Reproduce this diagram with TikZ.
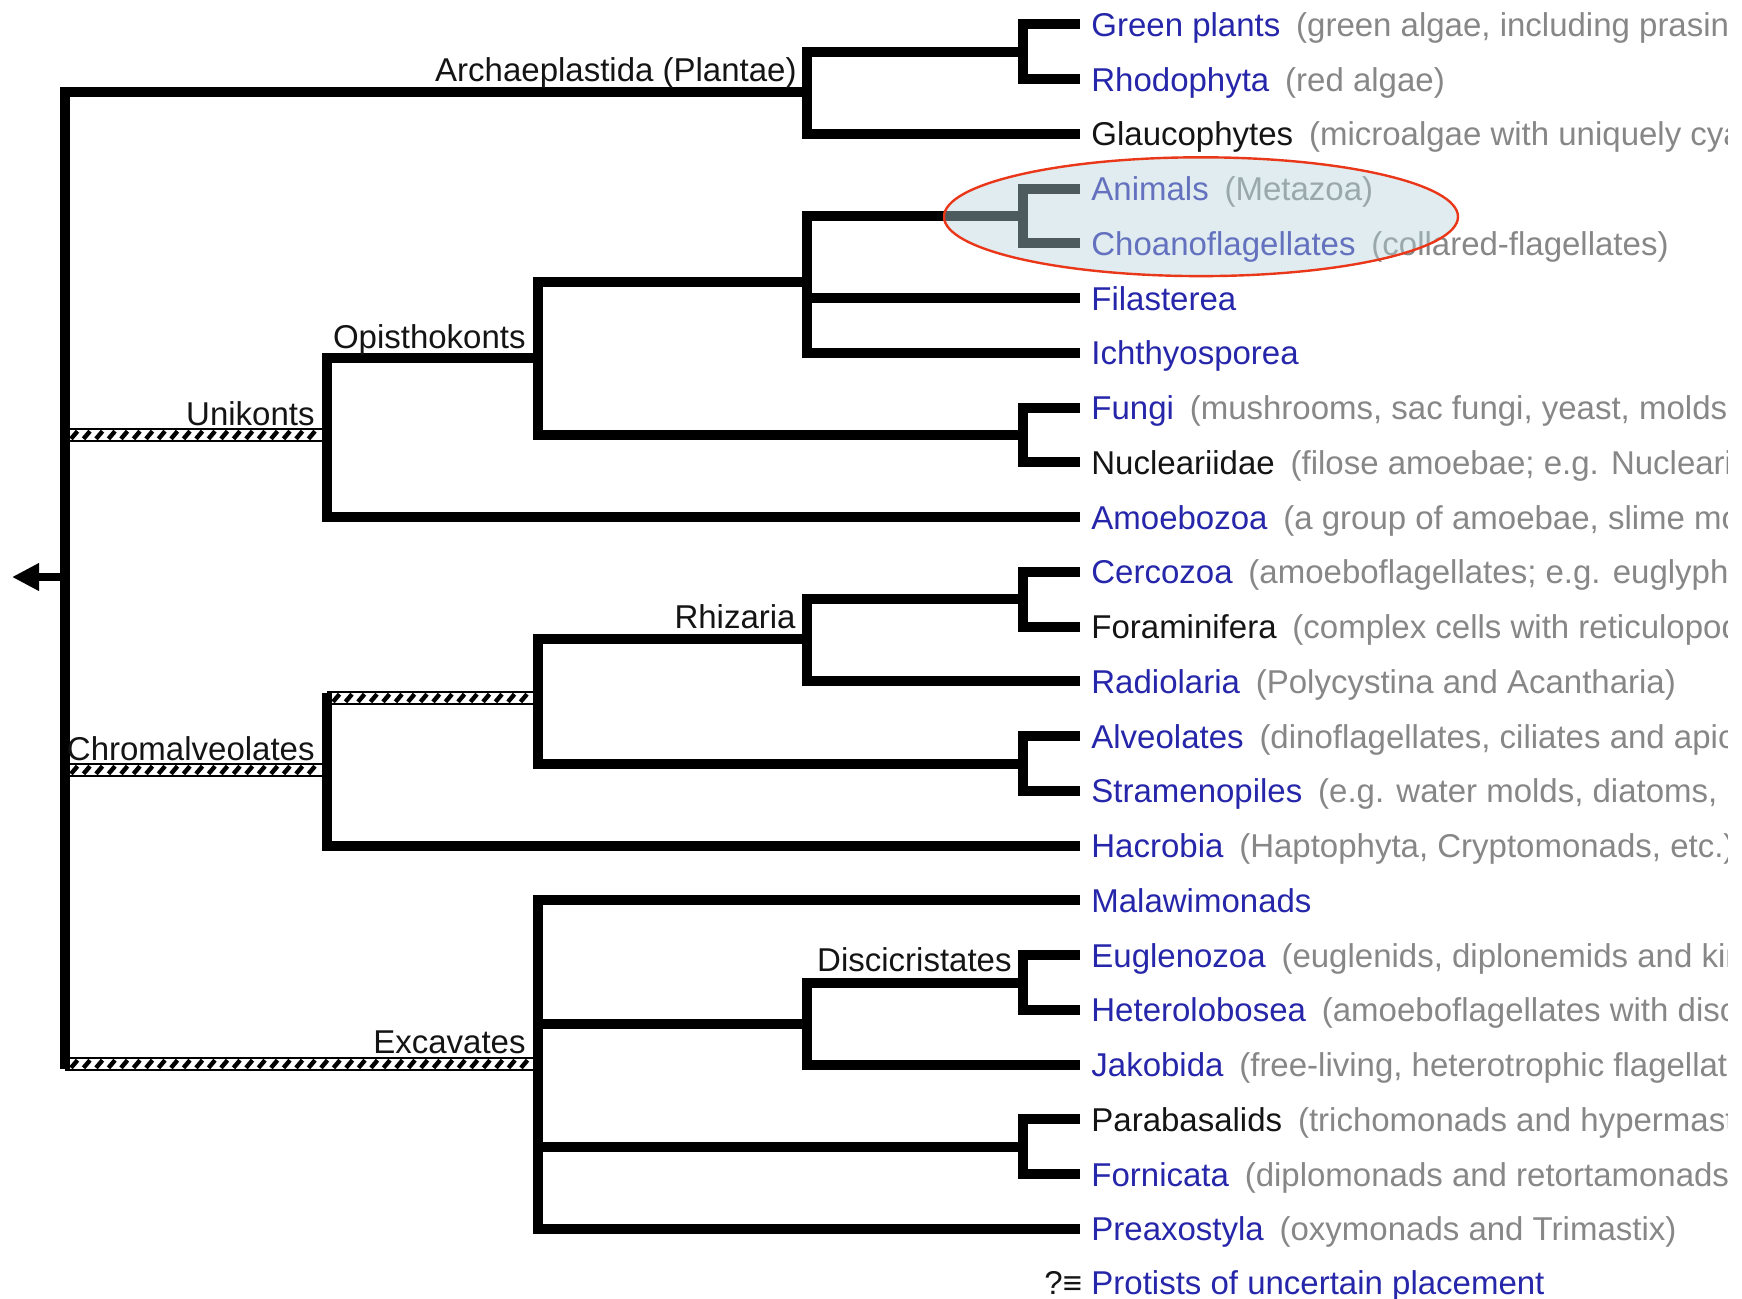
\documentclass[tikz,border=0pt]{standalone}
\usepackage{fontspec}
\setmainfont{Liberation Sans}
\usetikzlibrary{arrows.meta}
\definecolor{lnk}{RGB}{38,38,170}
\definecolor{dsc}{RGB}{135,135,135}
\definecolor{blk}{RGB}{20,20,20}
\definecolor{ovl}{RGB}{182,212,218}
\definecolor{ring}{RGB}{235,55,25}
\newcommand\Desc[1]{\hspace{0.48em}\textcolor{dsc}{#1}}
\newcommand\HatchBar[3]{%
  \fill[white] (#1,#3-7) rectangle (#2,#3+7);
  \draw[line width=1.1pt] (#1,#3-6) -- (#2,#3-6) (#1,#3+6) -- (#2,#3+6);
  \pgfmathsetmacro\hbS{#1+6}\pgfmathsetmacro\hbN{#1+18.5}\pgfmathsetmacro\hbE{#2-12}
  \foreach \xx in {\hbS,\hbN,...,\hbE} \draw[line width=2.2pt] (\xx,#3+3.8) -- (\xx+6.5,#3-3.8);
}
\tikzset{
  br/.style={line width=5pt, line join=miter, draw=black},
  brr/.style={br, line cap=rect},
  lbl/.style={inner sep=0pt, font=\fontsize{16.5}{19}\selectfont},
  leaf/.style={lbl, anchor=base west, text=lnk},
  leafk/.style={lbl, anchor=base west, text=blk},
  clade/.style={lbl, anchor=base east, text=blk},
}
\begin{document}
\begin{tikzpicture}[x=0.5pt,y=-0.5pt]
\useasboundingbox (0,0) rectangle (1742,1298);
% internal nodes
\coordinate (r)    at (65,577);
\coordinate (arch) at (807,92);
\coordinate (gr)   at (1023,51.8);
\coordinate (uni)  at (327,435);
\coordinate (opis) at (538,358);
\coordinate (hol)  at (807,282);
\coordinate (an)   at (1023,216);
\coordinate (fn)   at (1023,435);
\coordinate (chr)  at (327,770);
\coordinate (rsa)  at (538,698);
\coordinate (rhz)  at (807,639);
\coordinate (cf)   at (1023,599.3);
\coordinate (sa)   at (1023,763.5);
\coordinate (exc)  at (538,1064);
\coordinate (dis)  at (807,1023.6);
\coordinate (eh)   at (1023,982.5);
\coordinate (pf)   at (1023,1146.8);
\coordinate (tip)  at (12,577);
% leaf tips
\foreach \i in {0,...,22} {\coordinate (t\i) at (1080,24.4+54.75*\i);}
% hatched branches
\HatchBar{65}{327}{435}
\HatchBar{65}{327}{770}
\HatchBar{327}{538}{698}
\HatchBar{65}{538}{1064}
% root
\draw[line width=4pt, -{Triangle[length=13.5pt,width=13pt]}] (r) -- (tip);
\draw[br] (r) |- (arch);
\draw[brr] (r) -- (r |- exc);
% Archaeplastida
\draw[br] (arch) |- (gr);
\draw[br] (arch) |- (t2);
\draw[br] (gr) |- (t0);
\draw[br] (gr) |- (t1);
% Unikonts
\draw[brr] (uni) -- (uni |- opis);
\draw[br] (uni) |- (opis);
\draw[br] (uni) |- (t9);
\draw[br] (opis) |- (hol);
\draw[br] (opis) |- (fn);
\draw[br] (hol) |- (an);
\draw[br] (hol) |- (t5);
\draw[br] (hol) |- (t6);
\draw[br] (an) |- (t3);
\draw[br] (an) |- (t4);
\draw[br] (fn) |- (t7);
\draw[br] (fn) |- (t8);
% Chromalveolates
\draw[brr] (chr) -- (chr |- rsa);
\draw[br] (chr) |- (t15);
\draw[br] (rsa) |- (rhz);
\draw[br] (rsa) |- (sa);
\draw[br] (rhz) |- (cf);
\draw[br] (rhz) |- (t12);
\draw[br] (cf) |- (t10);
\draw[br] (cf) |- (t11);
\draw[br] (sa) |- (t13);
\draw[br] (sa) |- (t14);
% Excavates
\draw[br] (exc) |- (t16);
\draw[br] (exc) |- (dis);
\draw[br] (exc) |- (pf);
\draw[br] (exc) |- (t22);
\draw[br] (dis) |- (eh);
\draw[br] (dis) |- (t19);
\draw[br] (eh) |- (t17);
\draw[br] (eh) |- (t18);
\draw[br] (pf) |- (t20);
\draw[br] (pf) |- (t21);
% clade labels
\node[clade] (lArch) at (797,81) {Archaeplastida (Plantae)};
\node[clade] (lOpis) at (526,348) {Opisthokonts};
\node[clade] (lUni)  at (315,425) {Unikonts};
\node[clade] (lChr)  at (315,760) {Chromalveolates};
\node[clade] (lRhz)  at (796,628) {Rhizaria};
\node[clade] (lDis)  at (1012,971) {Discicristates};
\node[clade] (lExc)  at (526,1053) {Excavates};
% leaf labels
\begin{scope}
\clip (0,0) rectangle (1727,1298);
\node[leaf]  (L0)  at (1091,36.4)   {Green plants\Desc{(green algae, including prasino}};
\node[leaf]  (L1)  at (1091,91.2)   {Rhodophyta\Desc{(red algae)}};
\node[leafk] (L2)  at (1091,145.9)  {Glaucophytes\Desc{(microalgae with uniquely cya}};
\node[leaf]  (L3)  at (1091,200.7)  {Animals\Desc{(Metazoa)}};
\node[leaf]  (L4)  at (1091,255.4)  {Choanoflagellates\Desc{(collared-flagellates)}};
\node[leaf]  (L5)  at (1091,310.2)  {Filasterea};
\node[leaf]  (L6)  at (1091,364.9)  {Ichthyosporea};
\node[leaf]  (L7)  at (1091,419.7)  {Fungi\Desc{(mushrooms, sac fungi, yeast, molds,}};
\node[leafk] (L8)  at (1091,474.4)  {Nucleariidae\Desc{(filose amoebae; e.g. Nuclearia}};
\node[leaf]  (L9)  at (1091,529.2)  {Amoebozoa\Desc{(a group of amoebae, slime mol}};
\node[leaf]  (L10) at (1091,583.9)  {Cercozoa\Desc{(amoeboflagellates; e.g. euglyphid}};
\node[leafk] (L11) at (1091,638.7)  {Foraminifera\Desc{(complex cells with reticulopod}};
\node[leaf]  (L12) at (1091,693.4)  {Radiolaria\Desc{(Polycystina and Acantharia)}};
\node[leaf]  (L13) at (1091,748.2)  {Alveolates\Desc{(dinoflagellates, ciliates and apic}};
\node[leaf]  (L14) at (1091,802.9)  {Stramenopiles\Desc{(e.g. water molds, diatoms, b}};
\node[leaf]  (L15) at (1091,857.7)  {Hacrobia\Desc{(Haptophyta, Cryptomonads, etc.)}};
\node[leaf]  (L16) at (1091,912.4)  {Malawimonads};
\node[leaf]  (L17) at (1091,967.2)  {Euglenozoa\Desc{(euglenids, diplonemids and kin}};
\node[leaf]  (L18) at (1091,1021.9) {Heterolobosea\Desc{(amoeboflagellates with disc}};
\node[leaf]  (L19) at (1091,1076.7) {Jakobida\Desc{(free-living, heterotrophic flagellat}};
\node[leafk] (L20) at (1091,1131.4) {Parabasalids\Desc{(trichomonads and hypermast}};
\node[leaf]  (L21) at (1091,1186.2) {Fornicata\Desc{(diplomonads and retortamonads;}};
\node[leaf]  (L22) at (1091,1240.9) {Preaxostyla\Desc{(oxymonads and Trimastix)}};
\node[leafk] (Q)   at (1044,1294)   {?≡};
\node[leaf]  (L23) at (1091,1294)   {Protists of uncertain placement};
\end{scope}
% highlight ellipse
\fill[ovl, fill opacity=0.43] (1201,216.7) ellipse [x radius=257, y radius=59.4];
\draw[ring, line width=1.2pt] (1201,216.7) ellipse [x radius=257, y radius=59.4];
\end{tikzpicture}
\end{document}
